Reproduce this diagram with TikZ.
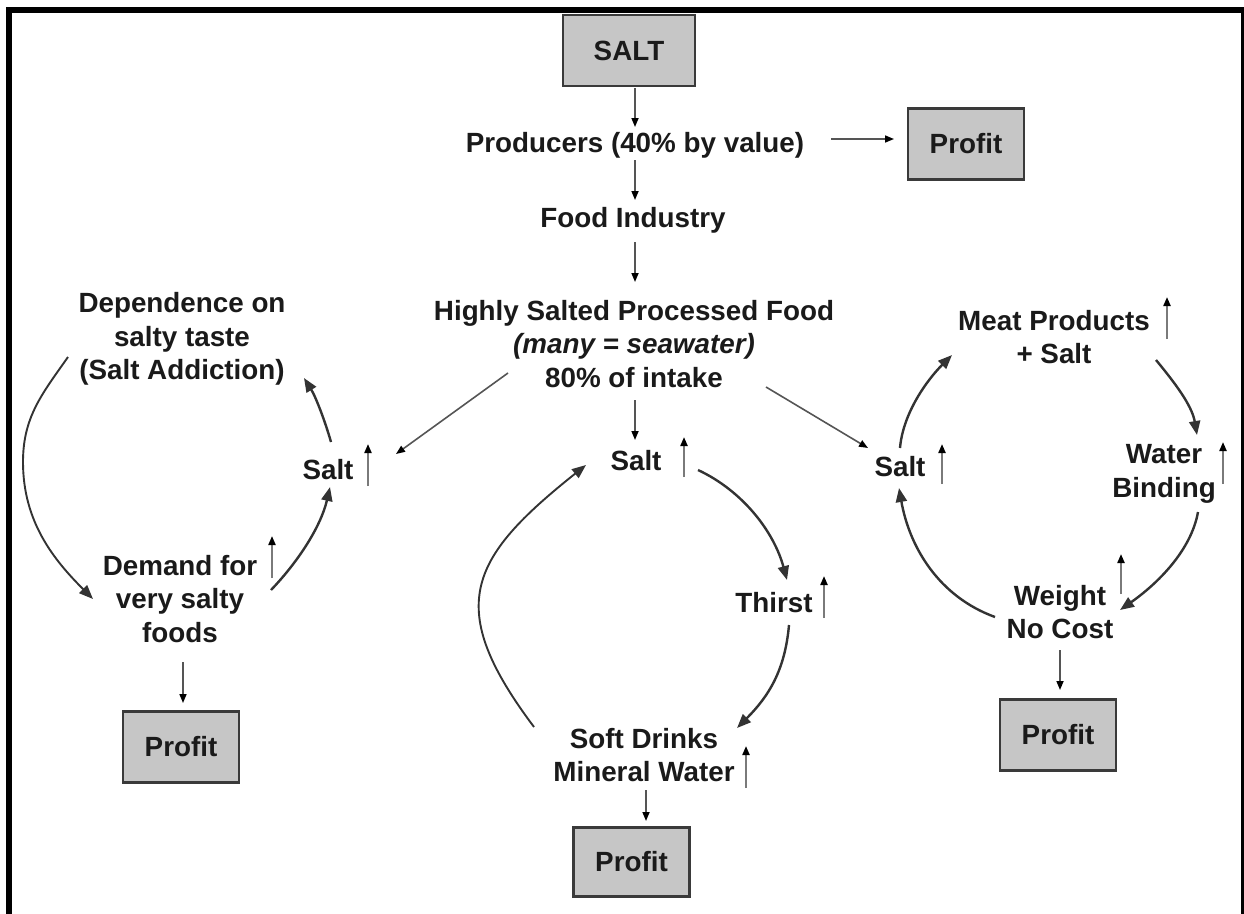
\documentclass[tikz,border=0pt]{standalone}
\usepackage{fontspec}
\setmainfont{Liberation Sans}
\usetikzlibrary{arrows.meta}
\definecolor{boxfill}{HTML}{C6C6C6}
\definecolor{boxline}{HTML}{3A3A3A}
\definecolor{loopc}{HTML}{333333}
\definecolor{thinc}{HTML}{555555}
\definecolor{upc}{HTML}{7A7A7A}
\definecolor{txt}{HTML}{1A1A1A}
\begin{document}
\begin{tikzpicture}[x=1pt,y=1pt,
 lbl/.style={font=\fontsize{27.8}{33.5}\selectfont\bfseries, text=txt, align=center, inner sep=0pt},
 pbox/.style={lbl, draw=boxline, fill=boxfill, line width=2.5pt, minimum width=116pt, minimum height=71pt},
 loopar/.style={draw=loopc, line width=2.4pt, -{Triangle[length=14pt,width=11pt]}},
 thinar/.style={draw=thinc, line width=1.6pt, -{Triangle[length=9pt,width=7pt,color=black]}},
 upar/.style={draw=upc, line width=2pt, -{Triangle[length=9pt,width=7pt,color=black]}},
 frame/.style={draw=black, line cap=rect}
]
\useasboundingbox (0,0) rectangle (1244,-913);
% frame
\draw[frame, line width=6pt] (9,-10) -- (1244,-10);
\draw[frame, line width=6pt] (9,-10) -- (9,-916);
\draw[black, line width=3pt] (1242.5,-10) -- (1242.5,-916);

% boxes
\node[pbox, minimum width=132pt] (salt) at (629,-50.5) {SALT};
\node[pbox] (pTop) at (966,-144) {Profit};
\node[pbox] (pLeft) at (181,-747) {Profit};
\node[pbox, minimum height=69pt] (pBot) at (631.5,-862) {Profit};
\node[pbox] (pRight) at (1058,-735) {Profit};

% text nodes
\node[lbl] (prod) at (635,-145) {Producers (40\% by value)};
\node[lbl] (food) at (633,-220) {Food Industry};
\node[lbl] (hsp) at (634,-344) {Highly Salted Processed Food\\\textit{(many = seawater)}\\80\% of intake};
\node[lbl] (saltC) at (636,-461) {Salt};
\node[lbl] (saltL) at (328,-470) {Salt};
\node[lbl] (saltR) at (900,-467) {Salt};
\node[lbl] (dep) at (182,-339) {Dependence on\\salty taste\\(Salt Addiction)};
\node[lbl] (dem) at (180,-599) {Demand for\\very salty\\foods};
\node[lbl] (meat) at (1054,-337) {Meat Products\\+ Salt};
\node[lbl] (water) at (1164,-474) {Water\\Binding};
\node[lbl] (thirst) at (774,-603) {Thirst};
\node[lbl] (soft) at (644,-755) {Soft Drinks\\Mineral Water};
\node[lbl] (weight) at (1060,-612) {Weight\\No Cost};

% connector end points
\coordinate (a1) at (635,-88);   \coordinate (a2) at (635,-127);
\coordinate (b1) at (831,-139);  \coordinate (b2) at (894,-139);
\coordinate (c1) at (635,-160);  \coordinate (c2) at (635,-200);
\coordinate (d1) at (635,-242);  \coordinate (d2) at (635,-282);
\coordinate (e1) at (635,-400);  \coordinate (e2) at (635,-440);
\coordinate (f1) at (508,-373);  \coordinate (f2) at (396,-454);
\coordinate (g1) at (766,-387);  \coordinate (g2) at (868,-448);
\coordinate (h1) at (183,-662);  \coordinate (h2) at (183,-703);
\coordinate (i1) at (646,-790);  \coordinate (i2) at (646,-821);
\coordinate (j1) at (1060,-650); \coordinate (j2) at (1060,-690);

% straight thin connectors
\draw[thinar] (a1) -- (a2);
\draw[thinar] (b1) -- (b2);
\draw[thinar] (c1) -- (c2);
\draw[thinar] (d1) -- (d2);
\draw[thinar] (e1) -- (e2);
\draw[thinar] (f1) -- (f2);
\draw[thinar] (g1) -- (g2);
\draw[thinar] (h1) -- (h2);
\draw[thinar] (i1) -- (i2);
\draw[thinar] (j1) -- (j2);

% small "increase" arrows
\coordinate (u1a) at (684,-477);  \coordinate (u1b) at (684,-437);
\coordinate (u2a) at (368,-486);  \coordinate (u2b) at (368,-444);
\coordinate (u3a) at (942,-484);  \coordinate (u3b) at (942,-444);
\coordinate (u4a) at (1167,-339); \coordinate (u4b) at (1167,-297);
\coordinate (u5a) at (1223,-484); \coordinate (u5b) at (1223,-442);
\coordinate (u6a) at (824,-618);  \coordinate (u6b) at (824,-576);
\coordinate (u7a) at (272,-578);  \coordinate (u7b) at (272,-536);
\coordinate (u8a) at (746,-788);  \coordinate (u8b) at (746,-746);
\coordinate (u9a) at (1121,-594); \coordinate (u9b) at (1121,-554);
\draw[upar] (u1a) -- (u1b);
\draw[upar] (u2a) -- (u2b);
\draw[upar] (u3a) -- (u3b);
\draw[upar] (u4a) -- (u4b);
\draw[upar] (u5a) -- (u5b);
\draw[upar] (u6a) -- (u6b);
\draw[upar] (u7a) -- (u7b);
\draw[upar] (u8a) -- (u8b);
\draw[upar] (u9a) -- (u9b);

% left loop
\coordinate (l1s) at (271,-590); \coordinate (l1e) at (330,-487);
\coordinate (l2s) at (331,-442); \coordinate (l2e) at (304,-378);
\coordinate (l3s) at (68,-357);  \coordinate (l3m) at (23,-462); \coordinate (l3e) at (93,-599);
\draw[loopar] (l1s) .. controls (298.8,-561) and (321,-526) .. (l1e);
\draw[loopar] (l2s) .. controls (325,-421) and (315.7,-396.7) .. (l2e);
\draw[loopar, line width=1.9pt] (l3s) .. controls (42,-394) and (23,-417) .. (l3m)
   .. controls (23,-522) and (54,-560) .. (l3e);

% centre loop
\coordinate (m1s) at (698,-470); \coordinate (m1e) at (787,-580);
\coordinate (m2s) at (789,-625); \coordinate (m2e) at (737,-728);
\coordinate (m3s) at (534,-727); \coordinate (m3e) at (586,-465);
\draw[loopar] (m1s) .. controls (743,-491) and (774,-532) .. (m1e);
\draw[loopar] (m2s) .. controls (785,-670) and (769,-696) .. (m2e);
\draw[loopar, line width=1.9pt] (m3s) .. controls (444,-607) and (468,-559) .. (m3e);

% right loop
\coordinate (r1s) at (900,-448);  \coordinate (r1e) at (952,-355);
\coordinate (r2s) at (1156,-360); \coordinate (r2e) at (1197,-435);
\coordinate (r3s) at (1198,-512); \coordinate (r3e) at (1120,-610);
\coordinate (r4s) at (995,-617);  \coordinate (r4e) at (899,-488);
\draw[loopar] (r1s) .. controls (903,-413) and (927,-380) .. (r1e);
\draw[loopar] (r2s) .. controls (1175,-383) and (1192,-405.5) .. (r2e);
\draw[loopar] (r3s) .. controls (1191,-551) and (1157,-584) .. (r3e);
\draw[loopar] (r4s) .. controls (938.6,-596.5) and (909.4,-547) .. (r4e);
\end{tikzpicture}
\end{document}
